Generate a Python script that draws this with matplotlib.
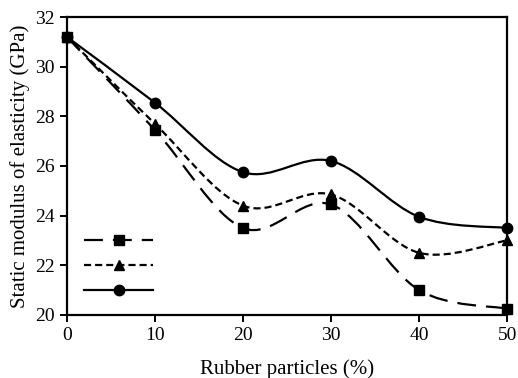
import numpy as np
import matplotlib
matplotlib.use("Agg")
import matplotlib.pyplot as plt
from matplotlib.path import Path
from matplotlib.patches import PathPatch
from matplotlib.lines import Line2D

plt.rcParams['font.family'] = ['Liberation Serif', 'DejaVu Serif']

rubber = [0, 10, 20, 30, 40, 50]
mod_square = [31.2, 27.45, 23.5, 24.45, 21.0, 20.25]
mod_triangle = [31.2, 27.7, 24.4, 24.85, 22.5, 23.0]
mod_circle = [31.2, 28.55, 25.75, 26.2, 23.95, 23.5]


def smooth_path(x, y):
    # excel style smoothed line: cubic bezier through every point
    pts = np.column_stack([x, y]).astype(float)
    ext = np.vstack([pts[0], pts, pts[-1]])
    verts = [pts[0]]
    codes = [Path.MOVETO]
    for i in range(len(pts) - 1):
        p0, p1, p2, p3 = ext[i], ext[i + 1], ext[i + 2], ext[i + 3]
        c1 = p1 + (p2 - p0) / 6.0
        c2 = p2 - (p3 - p1) / 6.0
        verts += [c1, c2, p2]
        codes += [Path.CURVE4] * 3
    return Path(verts, codes)


fig = plt.figure(figsize=(5.18, 3.78), dpi=100)
ax = fig.add_axes([0.129, 0.167, 0.85, 0.788])

lw = 1.6
series = [
    (mod_square, 's', (0, (8.5, 4.5))),
    (mod_triangle, '^', (0, (3.2, 1.8))),
    (mod_circle, 'o', '-'),
]
handles = []
for vals, mk, ls in series:
    patch = PathPatch(smooth_path(rubber, vals), facecolor='none',
                      edgecolor='black', lw=lw, linestyle=ls)
    ax.add_patch(patch)
    ax.plot(rubber, vals, linestyle='none', marker=mk, color='black',
            markersize=7.5, clip_on=False, zorder=3)
    handles.append(Line2D([], [], color='black', lw=lw, linestyle=ls,
                          marker=mk, markersize=7.5))

ax.legend(handles, ['', '', ''], loc='upper left', frameon=False,
          fontsize=12, handlelength=4.15, handletextpad=0,
          labelspacing=0.55, borderpad=0, borderaxespad=0,
          bbox_to_anchor=(0.039, 0.272))

ax.set_xlim(0, 50)
ax.set_ylim(20, 32)
ax.set_xticks(rubber)
ax.set_yticks([20, 22, 24, 26, 28, 30, 32])
ax.tick_params(direction='out', length=5, width=1.4, labelsize=14)
for s in ax.spines.values():
    s.set_linewidth(1.6)
ax.set_xlabel('Rubber particles (%)', fontsize=15, labelpad=11)
ax.set_ylabel('Static modulus of elasticity (GPa)', fontsize=15, labelpad=4)

fig.savefig('out.png', dpi=100)
